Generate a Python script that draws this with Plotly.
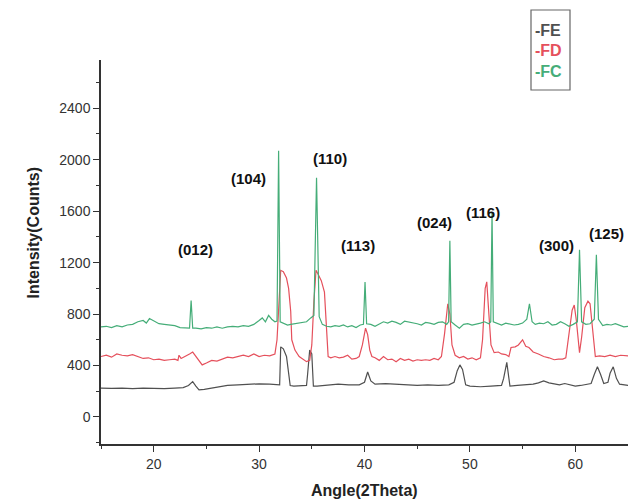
import plotly.graph_objects as go

# ---- data ----
fc_x = [15.0, 15.5, 16.0, 16.5, 17.0, 17.5, 18.0, 18.5, 19.0, 19.3, 19.6, 20.0, 20.5, 21.0, 21.5, 22.0, 22.5, 23.0, 23.4, 23.55, 23.7, 24.0, 24.5, 25.0, 25.5, 26.0, 26.5, 27.0, 27.5, 28.0, 28.5, 29.0, 29.5, 30.0, 30.3, 30.6, 30.9, 31.2, 31.5, 31.7, 31.85, 32.0, 32.3, 32.7, 33.0, 33.5, 34.0, 34.5, 34.9, 35.2, 35.45, 35.7, 36.0, 36.4, 36.8, 37.2, 37.6, 38.0, 38.4, 38.8, 39.2, 39.6, 39.9, 40.05, 40.2, 40.6, 41.0, 41.4, 41.8, 42.2, 42.6, 43.0, 43.4, 43.8, 44.2, 44.6, 45.0, 45.4, 45.8, 46.2, 46.6, 47.0, 47.4, 47.8, 47.98, 48.1, 48.22, 48.6, 49.0, 49.4, 49.8, 50.2, 50.6, 51.0, 51.4, 51.8, 51.98, 52.1, 52.22, 52.6, 53.0, 53.4, 53.8, 54.2, 54.6, 55.0, 55.4, 55.65, 55.9, 56.2, 56.6, 57.0, 57.4, 57.8, 58.2, 58.6, 59.0, 59.4, 59.8, 60.2, 60.4, 60.6, 61.0, 61.4, 61.8, 62.0, 62.2, 62.6, 63.0, 63.4, 63.8, 64.2, 64.6, 65.0]
fc_y = [700, 705, 695, 710, 700, 715, 720, 740, 750, 730, 765, 745, 725, 720, 715, 710, 695, 690, 690, 905, 690, 690, 685, 695, 690, 700, 690, 700, 705, 700, 710, 705, 720, 750, 770, 740, 790, 760, 740, 745, 2070, 740, 730, 715, 720, 725, 730, 740, 770, 790, 1860, 780, 720, 705, 700, 710, 705, 715, 700, 710, 695, 715, 720, 1050, 725, 720, 705, 725, 740, 730, 745, 735, 720, 745, 740, 730, 725, 715, 735, 730, 720, 735, 740, 720, 740, 1370, 740, 715, 690, 720, 725, 715, 720, 730, 740, 725, 740, 1590, 740, 730, 715, 730, 720, 715, 720, 730, 760, 880, 740, 720, 730, 725, 740, 715, 720, 740, 725, 705, 720, 740, 1300, 740, 720, 725, 760, 1260, 760, 710, 720, 715, 725, 710, 700, 705]

fd_x = [15.0, 15.5, 16.0, 16.5, 17.0, 17.5, 18.0, 18.5, 19.0, 19.5, 20.0, 20.5, 21.0, 21.5, 22.0, 22.3, 22.4, 22.6, 23.0, 23.4, 23.7, 24.0, 24.3, 24.6, 25.0, 25.5, 26.0, 26.5, 27.0, 27.5, 28.0, 28.5, 29.0, 29.5, 30.0, 30.5, 31.0, 31.5, 31.7, 31.9, 32.05, 32.3, 32.6, 32.8, 33.0, 33.1, 33.4, 33.8, 34.2, 34.5, 34.8, 35.0, 35.2, 35.4, 35.6, 35.9, 36.2, 36.4, 36.55, 36.8, 37.2, 37.6, 38.0, 38.4, 38.8, 39.2, 39.5, 39.8, 40.1, 40.3, 40.5, 40.7, 41.0, 41.4, 41.8, 42.2, 42.6, 43.0, 43.4, 43.8, 44.2, 44.6, 45.0, 45.4, 45.8, 46.2, 46.6, 47.0, 47.3, 47.6, 47.9, 48.1, 48.3, 48.6, 49.0, 49.4, 49.8, 50.2, 50.6, 51.0, 51.2, 51.45, 51.6, 51.8, 52.0, 52.3, 52.7, 53.0, 53.4, 53.7, 53.9, 54.3, 54.6, 55.0, 55.3, 55.6, 56.0, 56.5, 57.0, 57.5, 58.0, 58.4, 58.8, 59.1, 59.4, 59.7, 59.9, 60.1, 60.4, 60.6, 60.9, 61.2, 61.4, 61.6, 61.9, 62.3, 62.8, 63.3, 63.8, 64.3, 65.0]
fd_y = [470, 480, 465, 490, 480, 475, 485, 470, 455, 460, 445, 450, 440, 445, 450, 440, 480, 455, 470, 490, 505, 470, 430, 405, 420, 440, 435, 450, 465, 460, 470, 480, 470, 490, 470, 480, 475, 490, 600, 950, 1140, 1130, 1080, 1000, 820, 600, 520, 470, 450, 430, 440, 560, 900, 1140, 1110, 1060, 970, 700, 470, 460, 470, 460, 465, 480, 450, 455, 470, 560, 690, 640, 520, 470, 460, 440, 470, 445, 450, 430, 455, 440, 450, 435, 445, 440, 445, 440, 455, 445, 470, 650, 880, 800, 560, 480, 460, 470, 450, 460, 445, 460, 600, 1000, 1050, 800, 560, 500, 505, 490, 485, 470, 540, 545, 560, 600, 550, 540, 505, 490, 470, 460, 445, 450, 450, 460, 650, 830, 870, 750, 500, 620, 850, 900, 880, 700, 470, 475, 470, 480, 470, 480, 475]

fe_x = [15.0, 16.0, 17.0, 18.0, 19.0, 20.0, 21.0, 22.0, 22.8, 23.3, 23.7, 24.0, 24.3, 24.8, 25.5, 26.0, 26.5, 27.0, 28.0, 29.0, 30.0, 31.0, 31.8, 31.95, 32.05, 32.3, 32.6, 32.8, 32.95, 33.3, 34.0, 34.5, 34.6, 34.8, 35.0, 35.15, 35.5, 36.5, 37.5, 38.5, 39.5, 40.0, 40.3, 40.6, 41.0, 42.0, 43.0, 44.0, 45.0, 46.0, 47.0, 48.0, 48.5, 48.8, 49.05, 49.3, 49.6, 50.0, 51.0, 52.0, 53.0, 53.2, 53.5, 53.7, 53.8, 54.5, 55.5, 56.0, 56.5, 57.0, 57.5, 58.0, 58.5, 59.0, 59.5, 60.0, 60.5, 61.0, 61.5, 61.8, 62.1, 62.4, 62.7, 63.1, 63.3, 63.6, 63.9, 64.2, 65.0]
fe_y = [225, 222, 225, 220, 225, 222, 220, 225, 228, 245, 275, 240, 210, 215, 225, 235, 240, 245, 250, 255, 258, 255, 250, 250, 545, 530, 470, 330, 245, 240, 240, 245, 330, 520, 490, 240, 240, 245, 255, 250, 250, 270, 350, 280, 255, 260, 255, 250, 245, 250, 245, 250, 270, 360, 405, 370, 250, 240, 235, 240, 245, 300, 425, 300, 240, 245, 250, 255, 265, 280, 265, 255, 250, 260, 250, 240, 245, 250, 260, 330, 390, 330, 260, 270, 340, 390, 300, 255, 245]

peak_labels = ["(012)", "(104)", "(110)", "(113)", "(024)", "(116)", "(300)", "(125)"]
label_x = [24.0, 29.0, 36.7, 39.4, 46.6, 51.2, 58.2, 63.0]
label_y = [1300, 1850, 2012, 1330, 1510, 1590, 1330, 1430]

series_names = ["-FE", "-FD", "-FC"]
series_colors = ["#505050", "#e5505c", "#45ad78"]

FONT = "Liberation Sans, Arial, sans-serif"

W, H = 628, 503
PL, PT, PB = 101, 60, 59
PW = W - PL
PH = H - PT - PB

def pyp(page_y):
    return (PT + PH - page_y) / PH

def pxp(page_x):
    return (page_x - PL) / PW

fig = go.Figure()
for xs, ys, name, col in [(fe_x, fe_y, "FE", series_colors[0]),
                          (fd_x, fd_y, "FD", series_colors[1]),
                          (fc_x, fc_y, "FC", series_colors[2])]:
    fig.add_trace(go.Scatter(x=xs, y=ys, mode="lines", name=name,
                             line=dict(color=col, width=1.2), showlegend=False))

for t, x, y in zip(peak_labels, label_x, label_y):
    fig.add_annotation(x=x, y=y, text="<b>%s</b>" % t, showarrow=False,
                       font=dict(family=FONT, size=15, color="#111"))

# legend box
fig.add_shape(type="rect", xref="paper", yref="paper",
              x0=pxp(531), x1=pxp(570), y0=pyp(90), y1=pyp(10),
              line=dict(color="#666", width=1.2), fillcolor="white")
for i, (n, c) in enumerate(zip(series_names, series_colors)):
    fig.add_annotation(xref="paper", yref="paper", x=pxp(533),
                       y=pyp(30 + i * 20.5), xanchor="left", yanchor="middle",
                       text="<b>%s</b>" % n, showarrow=False,
                       font=dict(family=FONT, size=16, color=c))

# axis titles
fig.add_annotation(xref="paper", yref="y", x=0, y=1430, xshift=-78,
                   text="<b>Intensity(Counts)</b>", textangle=-90, showarrow=False,
                   font=dict(family=FONT, size=16, color="#222"))
fig.add_annotation(xref="paper", yref="paper", x=0.5, y=0, yshift=-46,
                   yanchor="middle", text="<b>Angle(2Theta)</b>", showarrow=False,
                   font=dict(family=FONT, size=16, color="#222"))

axis_common = dict(showline=True, linecolor="#333", linewidth=1.5, ticks="outside",
                   ticklen=6, tickwidth=1.3, tickcolor="#333", showgrid=False,
                   zeroline=False, tickfont=dict(family=FONT, size=14, color="#333"))

fig.update_layout(
    width=W, height=H,
    margin=dict(l=PL, r=0, t=PT, b=PB),
    paper_bgcolor="white", plot_bgcolor="white",
    hovermode=False,
    xaxis=dict(range=[15, 65], dtick=10, tick0=0,
               minor=dict(dtick=5, ticks="outside", ticklen=3, tickcolor="#333"),
               **axis_common),
    yaxis=dict(range=[-210, 2775], dtick=400, tick0=0,
               minor=dict(dtick=200, ticks="outside", ticklen=3, tickcolor="#333"),
               **axis_common),
)

fig.write_html("out.html", config={"displayModeBar": False},
               post_script="document.body.style.margin='0';")
